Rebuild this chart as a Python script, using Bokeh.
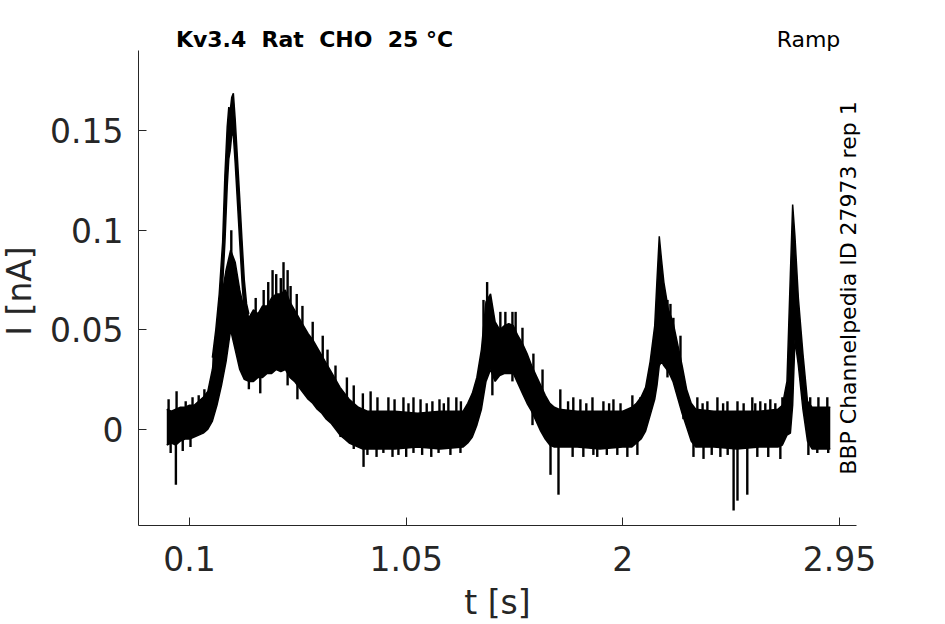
import numpy as np
from bokeh.plotting import figure
from bokeh.models import Range1d, FixedTicker, Label
from bokeh.embed import file_html
from bokeh.resources import INLINE

# ---- data ----
# solid core of the current trace (upper / lower edge)
t_core = [0.00, 0.02, 0.04, 0.06, 0.08, 0.10, 0.12, 0.14, 0.16, 0.18,
          0.20, 0.22, 0.24, 0.26, 0.28, 0.30, 0.32, 0.34, 0.36, 0.38,
          0.40, 0.42, 0.44, 0.46, 0.48, 0.50, 0.52, 0.54, 0.56, 0.58,
          0.60, 0.62, 0.64, 0.66, 0.68, 0.70, 0.72, 0.74, 0.76, 0.78,
          0.80, 0.82, 0.84, 0.86, 0.88, 0.90, 1.00, 1.10, 1.20, 1.30,
          1.32, 1.34, 1.36, 1.38, 1.40, 1.42, 1.44, 1.46, 1.48, 1.50,
          1.52, 1.54, 1.56, 1.58, 1.60, 1.62, 1.64, 1.66, 1.68, 1.70,
          1.72, 1.80, 1.90, 2.00, 2.02, 2.04, 2.06, 2.08, 2.10, 2.12,
          2.14, 2.15, 2.16, 2.17, 2.18, 2.20, 2.22, 2.24, 2.26, 2.28,
          2.30, 2.32, 2.40, 2.50, 2.60, 2.68, 2.70, 2.72, 2.735, 2.745,
          2.755, 2.77, 2.79, 2.81, 2.83, 2.91]
hi_core = [0.010, 0.009, 0.010, 0.011, 0.011, 0.012, 0.012, 0.014, 0.016, 0.019,
           0.030, 0.048, 0.066, 0.080, 0.090, 0.084, 0.070, 0.060, 0.056, 0.060,
           0.058, 0.062, 0.062, 0.066, 0.068, 0.068, 0.070, 0.064, 0.060, 0.056,
           0.052, 0.048, 0.045, 0.041, 0.037, 0.033, 0.029, 0.025, 0.021, 0.018,
           0.015, 0.013, 0.011, 0.010, 0.009, 0.009, 0.009, 0.008, 0.009, 0.009,
           0.013, 0.018, 0.026, 0.040, 0.064, 0.068, 0.054, 0.050, 0.052, 0.053,
           0.052, 0.047, 0.043, 0.038, 0.032, 0.027, 0.022, 0.017, 0.013, 0.011,
           0.010, 0.009, 0.009, 0.009, 0.010, 0.011, 0.013, 0.016, 0.021, 0.034,
           0.052, 0.075, 0.097, 0.085, 0.074, 0.060, 0.054, 0.043, 0.032, 0.020,
           0.013, 0.010, 0.009, 0.009, 0.009, 0.010, 0.012, 0.024, 0.078, 0.113,
           0.097, 0.066, 0.038, 0.014, 0.011, 0.011]
lo_core = [-0.008, -0.007, -0.008, -0.006, -0.005, -0.005, -0.004, -0.003, -0.002, 0.000,
           0.004, 0.012, 0.022, 0.034, 0.050, 0.040, 0.030, 0.025, 0.024, 0.024,
           0.026, 0.026, 0.028, 0.028, 0.030, 0.029, 0.030, 0.026, 0.024, 0.021,
           0.018, 0.015, 0.013, 0.010, 0.008, 0.005, 0.003, 0.000, -0.003, -0.005,
           -0.007, -0.008, -0.009, -0.010, -0.010, -0.010, -0.010, -0.009, -0.010, -0.009,
           -0.007, -0.004, 0.002, 0.010, 0.024, 0.030, 0.024, 0.027, 0.028, 0.028,
           0.028, 0.023, 0.018, 0.013, 0.009, 0.004, -0.001, -0.005, -0.008, -0.009,
           -0.009, -0.009, -0.010, -0.009, -0.009, -0.009, -0.007, -0.005, -0.001, 0.007,
           0.015, 0.022, 0.032, 0.034, 0.032, 0.029, 0.024, 0.016, 0.008, 0.001,
           -0.006, -0.009, -0.009, -0.010, -0.009, -0.009, -0.008, -0.003, -0.002, 0.012,
           0.045, 0.032, 0.010, -0.006, -0.010, -0.010]

# tall first-peak sweep (upper / lower edge)
t_peak = [0.20, 0.215, 0.23, 0.245, 0.255, 0.265, 0.272, 0.278, 0.285, 0.292,
          0.30, 0.31, 0.32, 0.33, 0.34, 0.35, 0.36]
hi_peak = [0.036, 0.050, 0.068, 0.094, 0.128, 0.152, 0.162, 0.160, 0.167, 0.169,
           0.156, 0.136, 0.116, 0.095, 0.075, 0.063, 0.058]
lo_peak = [0.024, 0.036, 0.050, 0.073, 0.094, 0.122, 0.136, 0.140, 0.148, 0.148,
           0.134, 0.114, 0.094, 0.074, 0.058, 0.048, 0.042]

# noise extremes sticking out of the core: upward ...
t_up = [0.008, 0.043, 0.083, 0.113, 0.140, 0.165, 0.283,
        0.390, 0.425, 0.445, 0.464, 0.480, 0.500, 0.512, 0.530, 0.543, 0.570,
        0.595, 0.640, 0.684, 0.705, 0.740, 0.790, 0.820, 0.860, 0.894, 0.924,
        0.972, 0.999, 1.038, 1.060, 1.082, 1.113, 1.140, 1.165, 1.196, 1.215,
        1.235, 1.270, 1.290, 1.389, 1.405, 1.463, 1.485, 1.516, 1.530, 1.560,
        1.608, 1.648, 1.726, 1.760, 1.783, 1.814, 1.840, 1.867, 1.915, 1.940,
        1.959, 1.990, 2.042, 2.077, 2.196, 2.209, 2.222, 2.253, 2.327, 2.350,
        2.371, 2.415, 2.440, 2.459, 2.503, 2.530, 2.568, 2.581, 2.603, 2.625,
        2.647, 2.669, 2.700, 2.822, 2.858, 2.897]
v_up = [0.015, 0.019, 0.014, 0.016, 0.017, 0.020, 0.100,
        0.066, 0.070, 0.074, 0.080, 0.078, 0.076, 0.084, 0.080, 0.072, 0.068,
        0.062, 0.054, 0.047, 0.040, 0.032, 0.026, 0.022, 0.018, 0.019, 0.016,
        0.016, 0.015, 0.016, 0.013, 0.016, 0.015, 0.013, 0.014, 0.015, 0.013,
        0.016, 0.016, 0.014, 0.065, 0.074, 0.059, 0.059, 0.059, 0.059, 0.051,
        0.038, 0.030, 0.020, 0.014, 0.016, 0.015, 0.013, 0.016, 0.014, 0.013,
        0.015, 0.013, 0.017, 0.016, 0.065, 0.063, 0.056, 0.047, 0.016, 0.013,
        0.014, 0.016, 0.013, 0.014, 0.014, 0.013, 0.016, 0.013, 0.014, 0.013,
        0.015, 0.013, 0.016, 0.016, 0.016, 0.016]
# ... and downward
t_dn = [0.017, 0.040, 0.070, 0.104,
        0.360, 0.410, 0.530, 0.573,
        0.762, 0.820, 0.863, 0.880, 0.920, 0.950, 0.990, 1.016, 1.050, 1.082,
        1.120, 1.160, 1.192, 1.244, 1.288, 1.428, 1.516, 1.604, 1.683, 1.718,
        1.780, 1.827, 1.871, 1.888, 1.930, 1.976, 2.020, 2.064, 2.196, 2.266,
        2.310, 2.354, 2.390, 2.428, 2.460, 2.486, 2.503, 2.546, 2.590, 2.638,
        2.691, 2.814, 2.853, 2.901]
v_dn = [-0.012, -0.028, -0.011, -0.009,
        0.020, 0.018, 0.022, 0.015,
        -0.004, -0.010, -0.019, -0.013, -0.014, -0.012, -0.014, -0.013, -0.014, -0.012,
        -0.013, -0.014, -0.012, -0.013, -0.012, 0.017, 0.024, 0.002, -0.023, -0.033,
        -0.014, -0.014, -0.013, -0.014, -0.013, -0.013, -0.014, -0.013, 0.026, 0.005,
        -0.014, -0.015, -0.013, -0.014, -0.013, -0.041, -0.036, -0.033, -0.014, -0.014,
        -0.015, -0.013, -0.012, -0.012]

x_ticks = [0.1, 1.05, 2, 2.95]
x_tick_labels = ["0.1", "1.05", "2", "2.95"]
y_ticks = [0, 0.05, 0.1, 0.15]
y_tick_labels = ["0", "0.05", "0.1", "0.15"]

NB = "\u00a0"
title_text = "Kv3.4" + NB * 2 + "Rat" + NB * 2 + "CHO" + NB * 2 + "25" + NB + "\u00b0C"
protocol_text = "Ramp"
side_text = "BBP Channelpedia ID 27973 rep 1"
x_label = "t [s]"
y_label = "I [nA]"

FONT = "DejaVu Sans"
AX = "#262626"

p = figure(width=945, height=624, output_backend="svg", toolbar_location=None,
           x_range=Range1d(-0.124, 3.025), y_range=Range1d(-0.0485, 0.1905),
           min_border_left=138, min_border_right=89, min_border_top=47,
           min_border_bottom=99)
p.outline_line_color = None
p.grid.visible = False
p.background_fill_color = "white"
p.border_fill_color = "white"

for ttt, hh, ll in ((t_core, hi_core, lo_core), (t_peak, hi_peak, lo_peak)):
    p.varea(x=ttt, y1=ll, y2=hh, fill_color="black")
    p.line(x=ttt, y=hh, line_color="black", line_width=1.5)
    p.line(x=ttt, y=ll, line_color="black", line_width=1.5)

# spikes: from the noise extreme back to the middle of the core
mid_core = [(a + b) / 2 for a, b in zip(hi_core, lo_core)]
p.segment(x0=t_up, y0=v_up, x1=t_up, y1=list(np.interp(t_up, t_core, mid_core)),
          line_color="black", line_width=2.4)
p.segment(x0=t_dn, y0=v_dn, x1=t_dn, y1=list(np.interp(t_dn, t_core, mid_core)),
          line_color="black", line_width=2.4)

p.xaxis.ticker = FixedTicker(ticks=x_ticks)
p.xaxis.major_label_overrides = {k: v for k, v in zip(x_ticks, x_tick_labels)}
p.yaxis.ticker = FixedTicker(ticks=y_ticks)
p.yaxis.major_label_overrides = {k: v for k, v in zip(y_ticks, y_tick_labels)}

for ax in (p.xaxis[0], p.yaxis[0]):
    ax.axis_line_color = AX
    ax.axis_line_width = 1
    ax.major_tick_line_color = AX
    ax.major_tick_in = 8
    ax.major_tick_out = 0
    ax.minor_tick_in = 0
    ax.minor_tick_out = 0
    ax.major_label_text_font = FONT
    ax.major_label_text_font_size = "33px"
    ax.major_label_text_color = AX

p.xaxis.major_label_standoff = 20
p.yaxis.major_label_standoff = 15

# texts outside the frame live in the side panels so they are not clipped
def put(text, x, y, size, where, bold=False, angle=0.0, align="left", color="black"):
    p.add_layout(Label(x=x, y=y, text=text, text_font=FONT, text_font_size=size,
                       text_font_style="bold" if bold else "normal",
                       text_color=color, angle=angle, text_align=align,
                       text_baseline="alphabetic"), where)

put(title_text, 0.040, 0.1960, "22px", "above", bold=True)
put(protocol_text, 2.954, 0.1960, "22px", "above", align="right")
put(side_text, 2.9895, 0.071, "22px", "right", angle=1.5707963, align="center")
put(x_label, 1.4503, -0.087, "33px", "below", align="center", color=AX)
put(y_label, -0.6453, 0.0695, "33px", "left", angle=1.5707963, align="center", color=AX)

open("out.html", "w").write(file_html(p, INLINE))
